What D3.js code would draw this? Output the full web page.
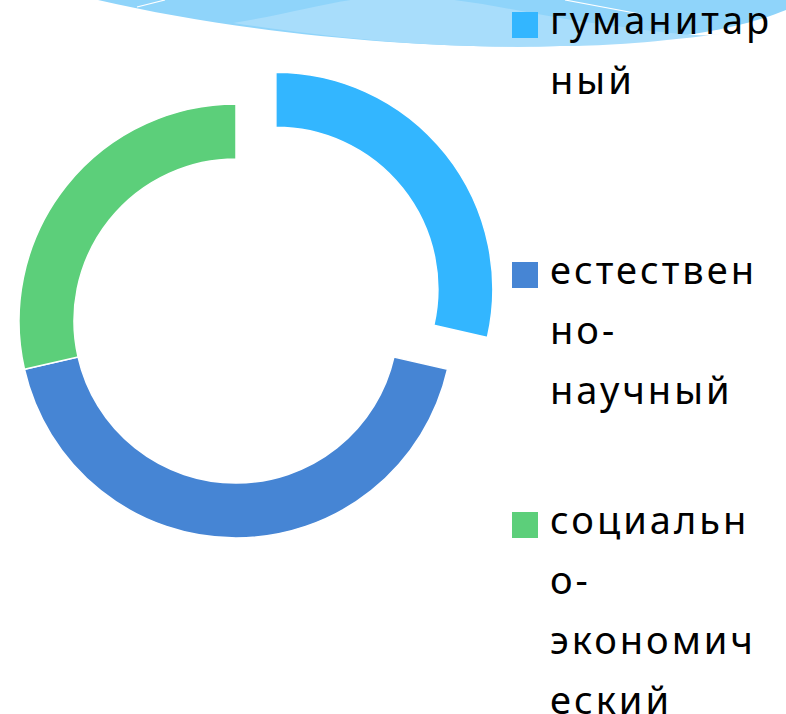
<!DOCTYPE html>
<html>
<head>
<meta charset="utf-8">
<script src="https://cdn.jsdelivr.net/npm/d3@7"></script>
<style>
  html, body { margin: 0; padding: 0; background: #fff; }
  svg { display: block; }
</style>
</head>
<body>
<div id="chart"></div>
<script>
const W = 786, H = 714;

// данные
const categories = ["гуманитарный", "естественно-научный", "социально-экономический"];
const values = [2, 3, 2];
const labelLines = [
  ["гуманитар", "ный"],
  ["естествен", "но-", "научный"],
  ["социальн", "о-", "экономич", "еский"]
];
const colors = ["#33B6FF", "#4685D4", "#5CCF7A"];
const explode = [1, 0, 0];

const svg = d3.select("#chart").append("svg")
  .attr("width", W)
  .attr("height", H);

// декоративная шапка слайда
const deco = svg.append("g");
deco.append("path")
  .attr("d", "M98,0 C250,35 430,50 560,46 C680,42 750,25 786,10 L786,0 Z")
  .attr("fill", "#8FD4FA");
deco.append("path")
  .attr("d", "M233,23 C300,12 340,-2 390,-4 C470,-4 520,14 600,24 C660,32 700,38 720,34 C640,44 600,46 560,46 C430,50 320,36 233,23 Z")
  .attr("fill", "#A8DDFB");
deco.append("line")
  .attr("x1", 137).attr("y1", 7).attr("x2", 165).attr("y2", 0)
  .attr("stroke", "#fff").attr("stroke-width", 1.2);
deco.append("line")
  .attr("x1", 565).attr("y1", 0).attr("x2", 640).attr("y2", 14)
  .attr("stroke", "#fff").attr("stroke-width", 1.2);

// кольцевая диаграмма
const cx = 236, cy = 321;
const outerR = 217, innerR = 162, explodeDist = 51;

const pie = d3.pie().sort(null).value(d => d)(values);
const arc = d3.arc().innerRadius(innerR).outerRadius(outerR);

const g = svg.append("g").attr("transform", `translate(${cx}, ${cy})`);

g.selectAll("path")
  .data(pie)
  .enter()
  .append("path")
  .attr("d", arc)
  .attr("fill", (d, i) => colors[i])
  .attr("stroke", "#fff")
  .attr("stroke-width", 1.5)
  .attr("transform", (d, i) => {
    const a = (d.startAngle + d.endAngle) / 2;
    const k = explode[i] * explodeDist;
    return `translate(${Math.sin(a) * k}, ${-Math.cos(a) * k})`;
  });

// легенда
const legendY = d3.scaleLinear().domain([0, 1]).range([34, 284]);
const lineH = 60;
const fontSize = 38;

const legend = svg.append("g")
  .attr("font-family", "'Noto Sans', 'Open Sans', sans-serif")
  .attr("font-size", fontSize)
  .attr("letter-spacing", 3)
  .attr("fill", "#000");

const items = legend.selectAll("g.item")
  .data(categories)
  .enter()
  .append("g")
  .attr("class", "item")
  .attr("transform", (d, i) => `translate(0, ${legendY(i)})`);

items.append("rect")
  .attr("x", 512)
  .attr("y", -22)
  .attr("width", 26)
  .attr("height", 26)
  .attr("fill", (d, i) => colors[i]);

items.append("text")
  .attr("x", 550)
  .attr("y", 0)
  .selectAll("tspan")
  .data((d, i) => labelLines[i])
  .enter()
  .append("tspan")
  .attr("x", 550)
  .attr("y", (d, j) => j * lineH)
  .text(d => d);
</script>
</body>
</html>
